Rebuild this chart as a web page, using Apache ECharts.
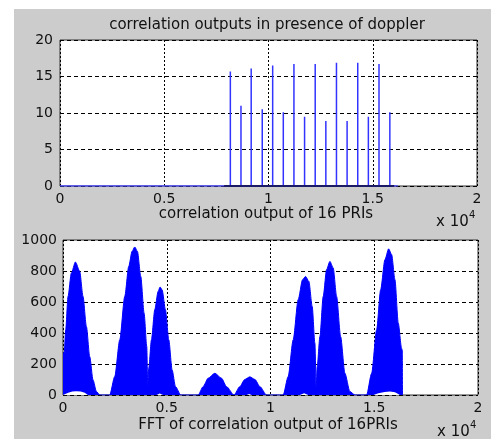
<!DOCTYPE html>
<html><head><meta charset="utf-8">
<script src="https://cdn.jsdelivr.net/npm/echarts@6/dist/echarts.min.js"></script>
<style>html,body{margin:0;padding:0;background:#fff;overflow:hidden}
#c{position:absolute;left:0;top:0;width:491px;height:439px}</style></head>
<body><div id="c"></div>
<script>
// ---- top plot: correlation stems ----
const stemX = [8170, 8680, 9170, 9700, 10200, 10710, 11220, 11730, 12240, 12750, 13260, 13770, 14280, 14790, 15300, 15820];
const stemY = [15.7, 11.0, 16.1, 10.5, 16.5, 10.1, 16.7, 9.5, 16.7, 8.9, 16.9, 8.9, 16.9, 9.5, 16.7, 10.1];
const baseLine = [0, 16200];      // thin zero line extent
const baseDark = [7870, 16030];   // dense zero segment extent
// ---- bottom plot: FFT envelope ----
const fftX = [0, 60, 130, 243, 403, 600, 805, 965, 1128, 1288, 1447, 1611, 1770, 2252, 2494, 2735, 2976, 3169, 3330, 3458, 3587, 3748, 3909, 4037, 4085, 4133, 4262, 4423, 4583, 4679, 4776, 4937, 5098, 5259, 5420, 5677, 6512, 6753, 6994, 7317, 7640, 7881, 8240, 8520, 8760, 9005, 9250, 9490, 9810, 10611, 10852, 11093, 11334, 11546, 11690, 11850, 12010, 12140, 12203, 12251, 12381, 12540, 12703, 12863, 13022, 13186, 13379, 13586, 13827, 14069, 14633, 14874, 15115, 15308, 15515, 15694, 15838, 15998, 16157, 16320, 16350, 16360];
const fftUpper = [270, 275, 420, 636, 787, 858, 798, 636, 442, 248, 97, 22, 0, 0, 119, 356, 636, 830, 927, 955, 927, 765, 528, 313, 54, 172, 356, 550, 668, 697, 679, 550, 356, 162, 54, 0, 0, 54, 108, 140, 108, 54, 0, 54, 100, 117, 100, 54, 0, 0, 119, 356, 615, 744, 765, 733, 571, 334, 54, 183, 377, 636, 809, 862, 820, 636, 377, 140, 22, 0, 0, 140, 421, 679, 873, 943, 906, 744, 464, 300, 290, 0];
const lowX = [0, 80, 250, 450, 646, 850, 1050, 1200, 4505, 4660, 4823, 8845, 8970, 9087, 11416, 11620, 11818, 14955, 15200, 15500, 15756, 16000, 16240, 20000];
const lowY = [0, 0, 15, 22, 25, 22, 15, 0, 0, 10, 0, 0, 6, 0, 0, 11, 0, 0, 12, 20, 22, 18, 0, 0];
const xTickLabels = ['0', '0.5', '1', '1.5', '2'];
const topTitle = 'correlation outputs in presence of doppler';
const topXLabel = 'correlation output of 16 PRIs';
const botXLabel = 'FFT of correlation output of 16PRIs';

const FONT = "'DejaVu Sans', sans-serif";
const TXT = '#111';
const chart = echarts.init(document.getElementById('c'), null, {renderer: 'canvas'});

const stemData = [];
stemX.forEach((x, i) => { stemData.push([x, 0], [x, stemY[i]], [x, 0]); });

const gridLine = (t) => ({show: true, lineStyle: {color: '#000', type: t, width: 1}});
const xAxisBase = (gi) => ({
  type: 'value', gridIndex: gi, min: 0, max: 20000, interval: 5000,
  axisLine: {show: false}, axisTick: {show: false},
  axisLabel: {color: TXT, fontSize: 14, fontFamily: FONT, margin: 6,
    formatter: (v) => xTickLabels[Math.round(v / 5000)]},
  splitLine: gridLine([2, 2])
});

chart.setOption({
  animation: false,
  backgroundColor: '#cccccc',
  grid: [
    {left: 60, top: 40, right: 14, height: 146, show: true, backgroundColor: '#fff', borderColor: '#333', borderWidth: 1},
    {left: 63, top: 240, right: 13, height: 155, show: true, backgroundColor: '#fff', borderColor: '#333', borderWidth: 1}
  ],
  xAxis: [xAxisBase(0), xAxisBase(1)],
  yAxis: [
    {type: 'value', gridIndex: 0, min: 0, max: 20, interval: 5,
     axisLine: {show: false}, axisTick: {show: false},
     axisLabel: {color: TXT, fontSize: 14, fontFamily: FONT, margin: 7, formatter: (v) => String(v)},
     splitLine: gridLine([4, 3])},
    {type: 'value', gridIndex: 1, min: 0, max: 1000, interval: 200,
     axisLabel: {color: TXT, fontSize: 14, fontFamily: FONT, margin: 6, formatter: (v) => String(v)},
     axisLine: {show: false}, axisTick: {show: false},
     splitLine: gridLine([4, 3])}
  ],
  series: [
    {type: 'line', xAxisIndex: 0, yAxisIndex: 0, data: [[baseLine[0], 0], [baseLine[1], 0]],
     symbol: 'none', lineStyle: {color: '#4d4dff', width: 1.5}, z: 2},
    {type: 'line', xAxisIndex: 0, yAxisIndex: 0, data: stemData,
     symbol: 'none', lineStyle: {color: '#3333ff', width: 1.5}, z: 3},
    {type: 'line', xAxisIndex: 0, yAxisIndex: 0, data: [[baseDark[0], 0], [baseDark[1], 0]],
     symbol: 'none', lineStyle: {color: '#1a1a66', width: 2}, z: 4},
    {type: 'line', xAxisIndex: 1, yAxisIndex: 1, data: fftX.map((x, i) => [x, fftUpper[i]]),
     symbol: 'none', smooth: 0.25, smoothMonotone: 'x',
     lineStyle: {color: '#0000ff', width: 1}, areaStyle: {color: '#0000ff', opacity: 1}, z: 3},
    {type: 'line', xAxisIndex: 1, yAxisIndex: 1, data: lowX.map((x, i) => [x, lowY[i]]),
     symbol: 'none', lineStyle: {width: 0, color: '#fff'}, areaStyle: {color: '#fff', opacity: 1}, z: 4}
  ],
  graphic: [
    {type: 'rect', shape: {x: 0, y: 0, width: 14, height: 439}, style: {fill: '#fff'}, silent: true},
    {type: 'rect', shape: {x: 0, y: 0, width: 491, height: 9}, style: {fill: '#fff'}, silent: true},
    {type: 'text', x: 267, y: 18, style: {text: topTitle, fill: TXT, font: '15px ' + FONT, textAlign: 'center'}},
    {type: 'text', x: 266, y: 207, style: {text: topXLabel, fill: TXT, font: '15px ' + FONT, textAlign: 'center'}},
    {type: 'text', x: 436, y: 215, style: {text: 'x 10', fill: TXT, font: '15px ' + FONT}},
    {type: 'text', x: 469, y: 210, style: {text: '4', fill: TXT, font: '10px ' + FONT}},
    {type: 'text', x: 268, y: 418, style: {text: botXLabel, fill: TXT, font: '15px ' + FONT, textAlign: 'center'}},
    {type: 'text', x: 437, y: 425, style: {text: 'x 10', fill: TXT, font: '15px ' + FONT}},
    {type: 'text', x: 470, y: 420, style: {text: '4', fill: TXT, font: '10px ' + FONT}}
  ]
});
</script></body></html>
